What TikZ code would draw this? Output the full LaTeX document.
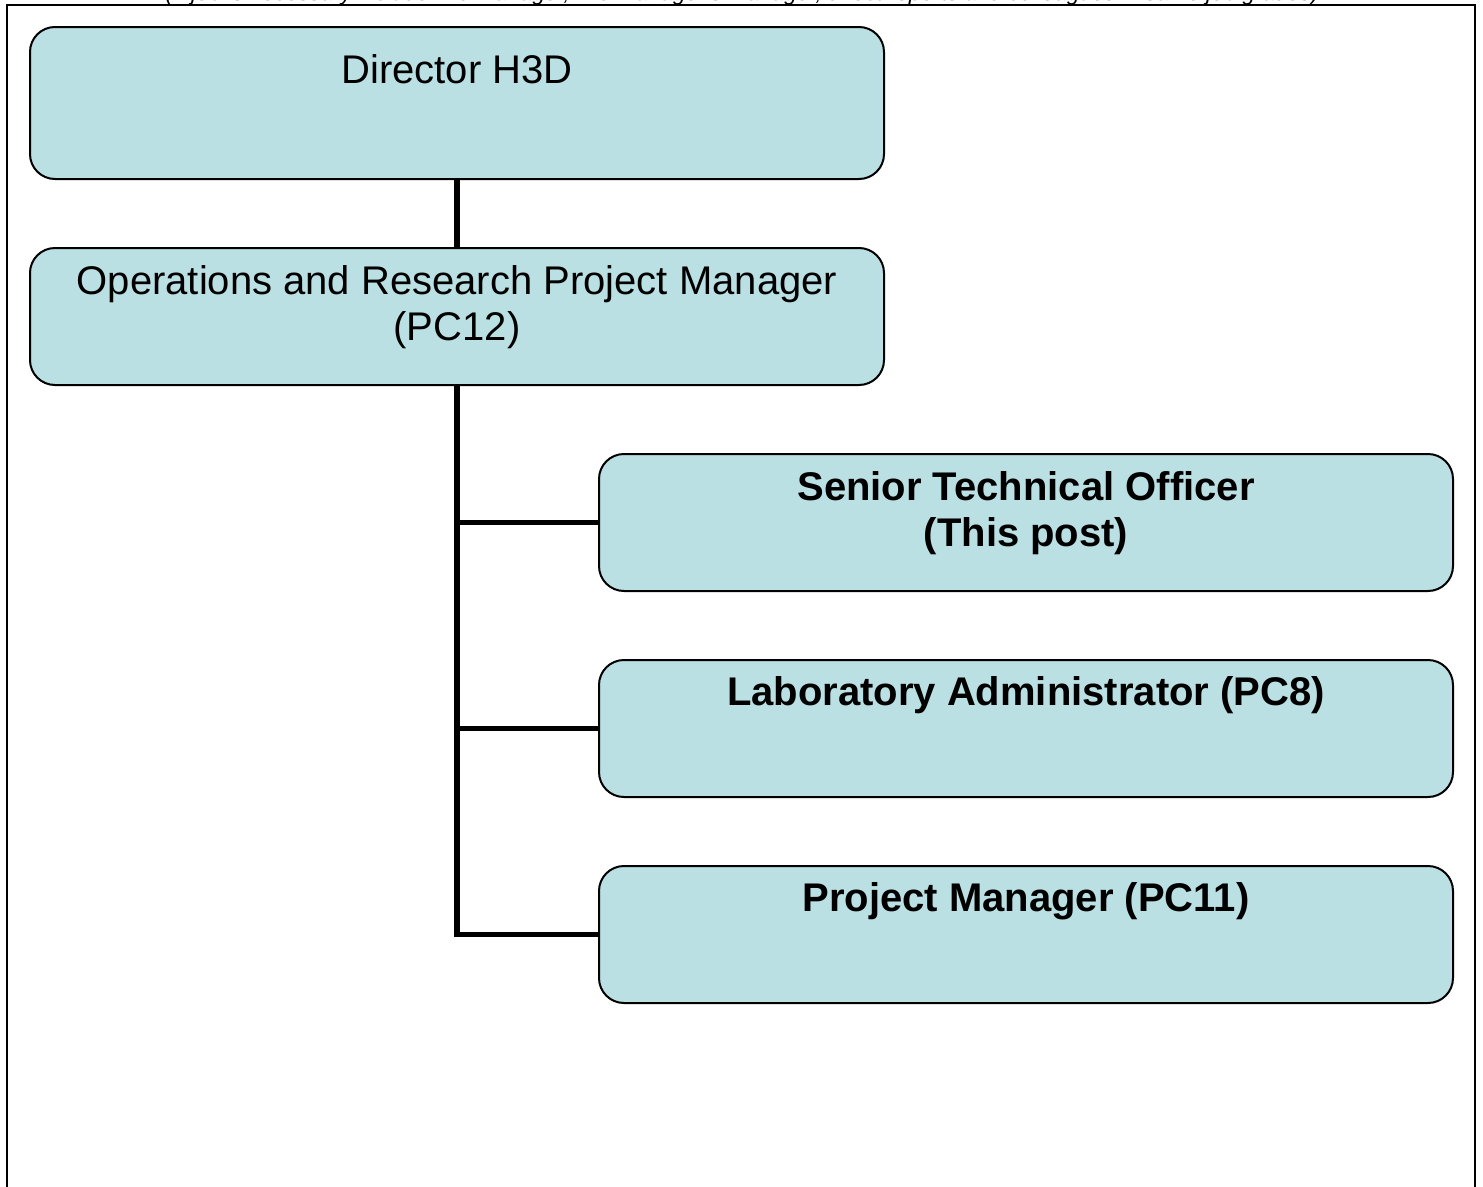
\documentclass[tikz,border=0pt]{standalone}
\usepackage{fontspec}
\setmainfont{Liberation Sans}
\definecolor{postfill}{RGB}{186, 224, 227}
\usetikzlibrary{positioning}

\begin{document}
\begin{tikzpicture}[
  post/.style={draw=black, fill=postfill, line width=2pt, rounded corners=25pt, minimum width=854pt, minimum height=#1, inner sep=0pt},
  post/.default=137pt,
  postname/.style={inner sep=0pt, align=center, font=\fontsize{40}{46}\selectfont},
  link/.style={line width=5.5pt},
]
  \useasboundingbox (0pt, 0pt) rectangle (1483pt, -1186pt);
  % frame and the clipped note above it
  \node[anchor=base, inner sep=0pt, font=\itshape\fontsize{22.4}{26}\selectfont] (note) at (742pt, 0pt)
    {(If job is necessary include line manager, line manager's manager, direct reports and colleagues in same job grades)};
  \draw[line width=2.2pt] (7pt, -1200pt) -- (7pt, -5pt) -- (1475pt, -5pt) -- (1475pt, -1200pt);

  % boxes
  \node[post=152pt] (dir) at (457pt, -103pt) {};
  \node[post] (opm) at (457pt, -316.5pt) {};
  \node[post] (sto) at (1026pt, -522.5pt) {};
  \node[post] (lab) at (1026pt, -728.5pt) {};
  \node[post] (pm) at (1026pt, -934.5pt) {};

  \node[postname, below=25pt of dir.north] (dirname) {\strut Director H3D};
  \node[postname, below=15pt of opm.north] (opmname) {\strut Operations and Research Project Manager\\(PC12)};
  \node[postname, below=15pt of sto.north, font=\bfseries\fontsize{40}{46}\selectfont] (stoname) {\strut Senior Technical Officer\\(This post)};
  \node[postname, below=14pt of lab.north, font=\bfseries\fontsize{40}{46}\selectfont] (labname) {\strut Laboratory Administrator (PC8)};
  \node[postname, below=14pt of pm.north, font=\bfseries\fontsize{40}{46}\selectfont] (pmname) {\strut Project Manager (PC11)};

  % reporting lines
  \draw[link] (dir.south) -- (opm.north);
  \draw[link] (opm.south) |- (pm.west);
  \draw[link] (opm.south |- sto.west) -- (sto.west);
  \draw[link] (opm.south |- lab.west) -- (lab.west);
\end{tikzpicture}
\end{document}
